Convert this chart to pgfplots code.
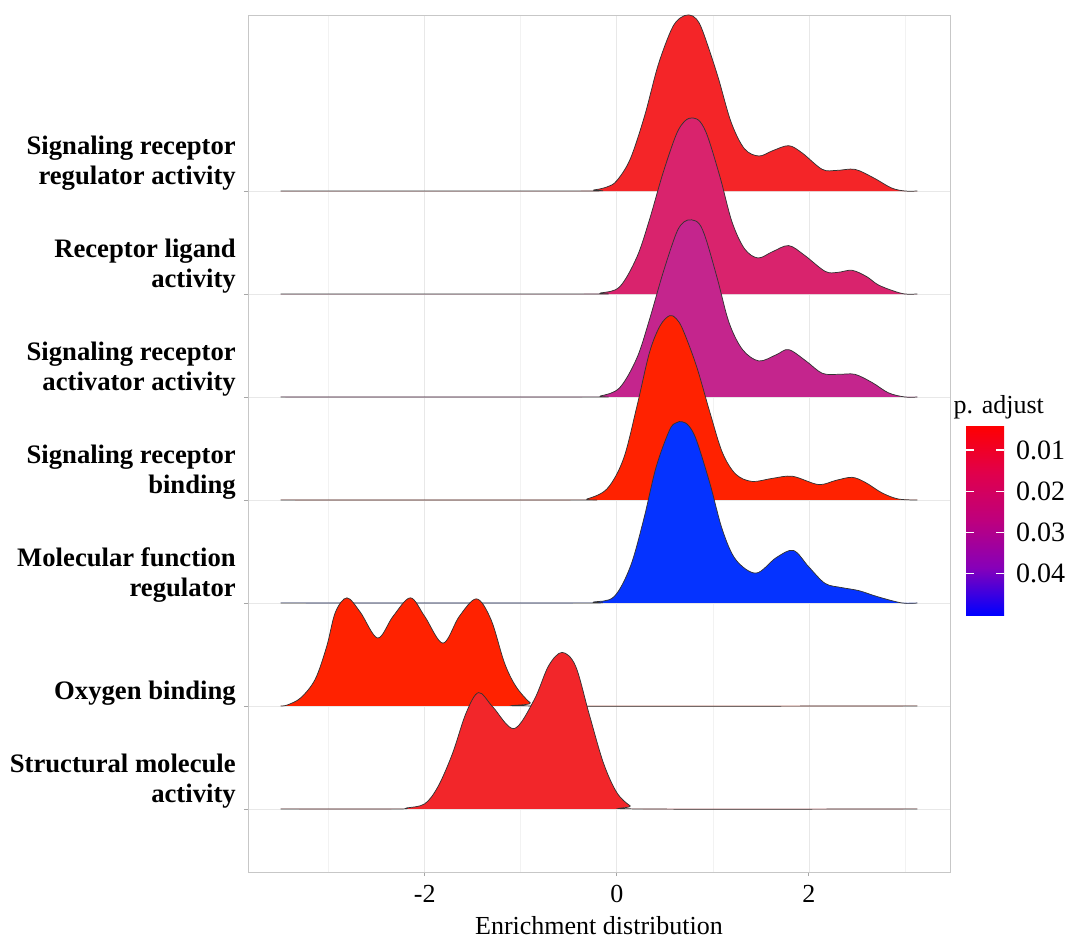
\documentclass[border=0pt]{standalone}
\usepackage{fontspec}
\setmainfont{Liberation Serif}
\usepackage{pgfplots}
\usepackage{pgfplotstable}
\pgfplotsset{compat=1.18}
\usetikzlibrary{calc}
\newcommand\lf{\fontsize{19.5}{22.5}\selectfont}
\newcommand\yf{\fontsize{20}{22.5}\selectfont}
\newcommand\cf{\fontsize{21}{24}\selectfont}
\definecolor{c7}{HTML}{F42528}
\definecolor{c6}{HTML}{D9236D}
\definecolor{c5}{HTML}{C4258D}
\definecolor{c4}{HTML}{FF2200}
\definecolor{c3}{HTML}{0533FF}
\definecolor{c2}{HTML}{FF2200}
\definecolor{c1}{HTML}{F2262A}

% Signaling receptor regulator activity (row 7)
\pgfplotstableread{
x h
-3.5 0
-0.4 0
-0.24 0.01
-0.1 0.04
0.0 0.10
0.14 0.31
0.29 0.73
0.43 1.22
0.57 1.57
0.66 1.68
0.75 1.71
0.83 1.67
0.9 1.54
1.05 1.12
1.19 0.67
1.33 0.41
1.48 0.34
1.62 0.39
1.79 0.44
1.93 0.37
2.14 0.21
2.29 0.20
2.48 0.21
2.67 0.13
2.86 0.03
3.0 0.0
3.13 0
}\rG
% Receptor ligand activity (row 6)
\pgfplotstableread{
x h
-3.5 0
-0.35 0
-0.17 0.01
0.03 0.07
0.21 0.36
0.34 0.72
0.48 1.17
0.62 1.55
0.71 1.68
0.79 1.71
0.87 1.67
0.95 1.52
1.08 1.12
1.2 0.70
1.33 0.44
1.47 0.35
1.62 0.41
1.79 0.47
1.95 0.38
2.17 0.22
2.3 0.21
2.45 0.23
2.6 0.17
2.72 0.09
2.88 0.03
3.0 0
3.13 0
}\rF
% Signaling receptor activator activity (row 5)
\pgfplotstableread{
x h
-3.5 0
-0.35 0
-0.17 0.01
0.03 0.09
0.21 0.38
0.34 0.75
0.48 1.20
0.62 1.59
0.70 1.70
0.78 1.72
0.86 1.68
0.93 1.53
1.05 1.14
1.17 0.72
1.31 0.46
1.48 0.35
1.66 0.41
1.79 0.46
1.97 0.35
2.14 0.23
2.31 0.22
2.48 0.22
2.66 0.14
2.83 0.04
3.0 0
3.13 0
}\rE
% Signaling receptor binding (row 4)
\pgfplotstableread{
x h
-3.5 0
-0.45 0
-0.31 0.01
-0.1 0.11
0.07 0.40
0.21 0.91
0.34 1.43
0.45 1.69
0.55 1.79
0.62 1.76
0.69 1.65
0.83 1.30
0.97 0.85
1.1 0.46
1.24 0.25
1.41 0.18
1.62 0.21
1.83 0.23
2.1 0.15
2.28 0.19
2.45 0.22
2.59 0.17
2.76 0.07
2.93 0.01
3.13 0
}\rD
% Molecular function regulator (row 3)
\pgfplotstableread{
x h
-3.5 0
-0.4 0
-0.24 0.01
-0.03 0.06
0.14 0.35
0.28 0.81
0.41 1.32
0.55 1.68
0.62 1.75
0.68 1.76
0.75 1.72
0.83 1.58
0.97 1.16
1.1 0.71
1.24 0.42
1.45 0.29
1.66 0.44
1.84 0.51
2.0 0.35
2.17 0.19
2.34 0.15
2.52 0.12
2.72 0.06
2.97 0.0
3.13 0
}\rC
% Oxygen binding (row 2)
\pgfplotstableread{
x h
-3.5 0
-3.43 0.01
-3.29 0.08
-3.14 0.26
-3.02 0.58
-2.93 0.91
-2.81 1.05
-2.67 0.91
-2.49 0.66
-2.33 0.87
-2.15 1.05
-2.0 0.87
-1.81 0.61
-1.64 0.87
-1.46 1.04
-1.31 0.84
-1.17 0.42
-1.05 0.19
-0.9 0.03
-0.8 0
3.13 0
}\rB
% Structural molecule activity (row 1)
\pgfplotstableread{
x h
-3.5 0
-2.3 0
-2.19 0.01
-2.0 0.05
-1.86 0.22
-1.71 0.54
-1.57 0.93
-1.44 1.13
-1.29 0.99
-1.07 0.78
-0.86 1.06
-0.71 1.39
-0.57 1.52
-0.43 1.39
-0.29 0.93
-0.14 0.45
0.0 0.16
0.14 0.03
0.24 0
3.13 0
}\rA

\begin{document}
\begin{tikzpicture}
\path[use as bounding box] (0,0) rectangle (800.25pt,705pt);
\begin{axis}[
  at={(186pt,51pt)}, anchor=south west,
  scale only axis, width=526.5pt, height=642.75pt,
  xmin=-3.84, xmax=3.47, ymin=0.388, ymax=8.709,
  xtick={-2,0,2}, xticklabels={-2,0,2},
  minor xtick={-3,-1,1,3},
  ytick={1,2,3,4,5,6,7},
  yticklabels={{Structural molecule\\activity},{Oxygen binding},{Molecular function\\regulator},{Signaling receptor\\binding},{Signaling receptor\\activator activity},{Receptor ligand\\activity},{Signaling receptor\\regulator activity}},
  xmajorgrids, xminorgrids, ymajorgrids,
  major grid style={black!9, line width=0.5pt},
  minor grid style={black!5, line width=0.4pt},
  axis line style={black!22, line width=0.6pt},
  tick align=outside, tick pos=left,
  major tick length=3pt, minor tick length=0pt,
  tick style={black!35, line width=0.6pt},
  yticklabel style={font=\yf\bfseries, align=right, anchor=south east, inner sep=0pt, xshift=-6pt},
  xticklabel style={font=\lf, anchor=base, yshift=-19.5pt},
  xlabel={Enrichment distribution},
  xlabel style={font=\lf, at={(axis description cs:0.5,0)}, anchor=base, yshift=-46.5pt},
  colormap={pa}{rgb255=(255,0,0) rgb255=(225,0,75) rgb255=(190,0,125) rgb255=(135,0,185) rgb255=(0,0,255)},
  point meta min=0.00393, point meta max=0.0501,
  colorbar,
  colorbar/width=28.5pt,
  colorbar style={
    at={($(parent axis.south east)+(3.5pt,192.75pt)$)}, anchor=south west,
    scale only axis, height=142.5pt,
    y dir=reverse,
    ytick={0.01,0.02,0.03,0.04}, yticklabels={0.01,0.02,0.03,0.04},
    scaled y ticks=false,
    ytick pos=both,
    yticklabel pos=right,
    yticklabel style={font=\cf, xshift=5.5pt},
    axis line style={draw=none},
    tick align=inside, major tick length=6pt,
    major tick style={white, line width=0.8pt},
  },
]
\addplot[smooth, tension=0.55, fill=c7, draw=none] table[x=x, y expr=\thisrow{h}+7] {\rG} -- cycle;
\addplot[smooth, tension=0.55, draw=black!80, line width=0.55pt] table[x=x, y expr=\thisrow{h}+7] {\rG};
\addplot[smooth, tension=0.55, fill=c6, draw=none] table[x=x, y expr=\thisrow{h}+6] {\rF} -- cycle;
\addplot[smooth, tension=0.55, draw=black!80, line width=0.55pt] table[x=x, y expr=\thisrow{h}+6] {\rF};
\addplot[smooth, tension=0.55, fill=c5, draw=none] table[x=x, y expr=\thisrow{h}+5] {\rE} -- cycle;
\addplot[smooth, tension=0.55, draw=black!80, line width=0.55pt] table[x=x, y expr=\thisrow{h}+5] {\rE};
\addplot[smooth, tension=0.55, fill=c4, draw=none] table[x=x, y expr=\thisrow{h}+4] {\rD} -- cycle;
\addplot[smooth, tension=0.55, draw=black!80, line width=0.55pt] table[x=x, y expr=\thisrow{h}+4] {\rD};
\addplot[smooth, tension=0.55, fill=c3, draw=none] table[x=x, y expr=\thisrow{h}+3] {\rC} -- cycle;
\addplot[smooth, tension=0.55, draw=black!80, line width=0.55pt] table[x=x, y expr=\thisrow{h}+3] {\rC};
\addplot[smooth, tension=0.55, fill=c2, draw=none] table[x=x, y expr=\thisrow{h}+2] {\rB} -- cycle;
\addplot[smooth, tension=0.55, draw=black!80, line width=0.55pt] table[x=x, y expr=\thisrow{h}+2] {\rB};
\addplot[smooth, tension=0.55, fill=c1, draw=none] table[x=x, y expr=\thisrow{h}+1] {\rA} -- cycle;
\addplot[smooth, tension=0.55, draw=black!80, line width=0.55pt] table[x=x, y expr=\thisrow{h}+1] {\rA};
\end{axis}
\node[anchor=base west, font=\lf, inner sep=0pt] at (715pt,395pt) {p. adjust};
\end{tikzpicture}
\end{document}
